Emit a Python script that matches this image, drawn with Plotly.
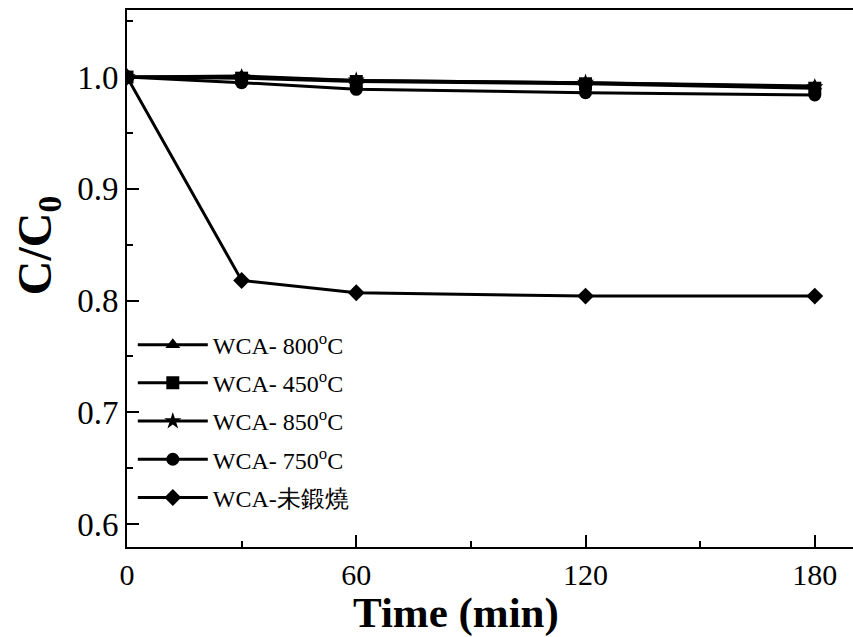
import plotly.graph_objects as go

time_min = [0, 30, 60, 120, 180]
wca_800 = [1.000, 1.001, 0.997, 0.995, 0.992]
wca_450 = [1.000, 0.999, 0.996, 0.994, 0.990]
wca_850 = [1.000, 1.000, 0.997, 0.995, 0.991]
wca_750 = [1.000, 0.995, 0.989, 0.986, 0.984]
wca_raw = [1.000, 0.818, 0.807, 0.804, 0.804]

series = [
    ("WCA- 800<sup>o</sup>C", wca_800, "triangle-up"),
    ("WCA- 450<sup>o</sup>C", wca_450, "square"),
    ("WCA- 850<sup>o</sup>C", wca_850, "star"),
    ("WCA- 750<sup>o</sup>C", wca_750, "circle"),
    ("WCA-未鍛燒", wca_raw, "diamond"),
]

FONT = "Liberation Serif"

fig = go.Figure()
for i, (name, vals, sym) in enumerate(series):
    fig.add_trace(go.Scatter(
        x=time_min, y=vals, name=name, mode="lines+markers",
        legendgroup=f"g{i}",
        line=dict(color="black", width=3),
        marker=dict(symbol=sym, size=13, color="black"),
    ))

fig.update_layout(
    width=853, height=637,
    margin=dict(l=127, r=0, t=10, b=90),
    paper_bgcolor="white", plot_bgcolor="white",
    font=dict(family=FONT, color="black", size=30),
    showlegend=True,
    legend=dict(x=0.008, y=0.418, xanchor="left", yanchor="top",
                bgcolor="rgba(0,0,0,0)", font=dict(size=24, family=FONT),
                tracegroupgap=4, itemwidth=70),
    annotations=[
        dict(text="<b>Time (min)</b>", xref="paper", yref="paper",
             x=0.453, y=-0.122, xanchor="center", yanchor="middle",
             showarrow=False, font=dict(size=43, family=FONT)),
        dict(text="<b>C/C<sub>0</sub></b>", xref="paper", yref="paper",
             x=-0.1226, y=0.562, xanchor="center", yanchor="middle",
             textangle=-90, showarrow=False, font=dict(size=48, family=FONT)),
    ],
)
fig.update_xaxes(
    range=[0, 190], tickvals=[0, 60, 120, 180],
    showline=True, linecolor="black", linewidth=2, mirror=True,
    ticks="inside", ticklen=12, tickwidth=2, tickcolor="black",
    minor=dict(dtick=30, tick0=0, ticks="inside", ticklen=6, tickwidth=2, tickcolor="black"),
    showgrid=False, zeroline=False,
    tickfont=dict(size=30, family=FONT, color="black"),
)
fig.update_yaxes(
    range=[0.5795, 1.06], tickvals=[0.6, 0.7, 0.8, 0.9, 1.0], tickformat=".1f",
    showline=True, linecolor="black", linewidth=2, mirror=False,
    ticks="inside", ticklen=12, tickwidth=2, tickcolor="black",
    minor=dict(dtick=0.05, tick0=0.6, ticks="inside", ticklen=6, tickwidth=2, tickcolor="black"),
    showgrid=False, zeroline=False,
    tickfont=dict(size=33, family=FONT, color="black"),
)

fig.write_html("out.html")
